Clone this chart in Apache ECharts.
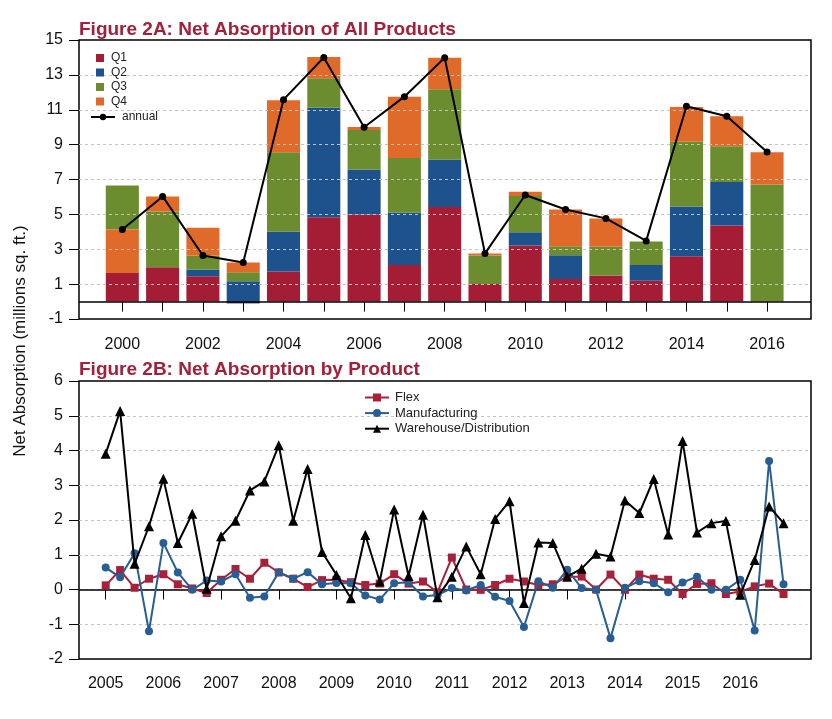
<!DOCTYPE html>
<html lang="en">
<head>
<meta charset="UTF-8">
<title>Net Absorption</title>
<script src="https://cdn.jsdelivr.net/npm/echarts@6/dist/echarts.min.js"></script>
<style>
    html,body{
        padding: 0;
        margin: 0;
        background: #fff;
    }
</style>
</head>
<body>
<div id="chart" style="width: 832px;height: 719px;"></div>
<script type="text/javascript">
    // Figure 2A: quarterly pieces of each year's net absorption (millions sq. ft.)
    var years = [2000, 2001, 2002, 2003, 2004, 2005, 2006, 2007, 2008, 2009, 2010, 2011, 2012, 2013, 2014, 2015, 2016];
    var q1 = [1.64, 1.97, 1.45, -0.10, 1.72, 4.84, 4.99, 2.10, 5.43, 1.01, 3.21, 1.30, 1.49, 1.20, 2.60, 4.36, 0];
    var q2 = [0, 0, 0.39, 1.26, 2.30, 6.27, 2.59, 2.99, 2.72, 0, 0.77, 1.36, 0, 0.89, 2.85, 2.49, 0];
    var q3 = [2.53, 3.20, 0.80, 0.52, 4.54, 1.70, 2.26, 3.14, 4.03, 1.63, 2.07, 0.51, 1.65, 1.36, 3.72, 2.05, 6.72];
    var q4 = [2.49, 0.86, 1.59, 0.56, 2.99, 1.22, 0.17, 3.52, 1.80, 0.12, 0.25, 2.11, 1.63, 0, 1.99, 1.73, 1.84];
    var annual = [4.13, 6.03, 2.64, 2.24, 11.58, 14.00, 10.00, 11.75, 13.98, 2.76, 6.11, 5.28, 4.77, 3.48, 11.20, 10.63, 8.58];
    // in the source chart the 2000 bar has its Q4 piece under Q3
    var q4UnderQ3 = [2000];
    var yTicksA = [-1, 1, 3, 5, 7, 9, 11, 13, 15];
    var xLabelsA = [2000, 2002, 2004, 2006, 2008, 2010, 2012, 2014, 2016];

    // Figure 2B: quarterly net absorption by product, 2005Q1 - 2016Q4
    var firstYear = 2005;
    var flex = [0.12, 0.56, 0.05, 0.31, 0.44, 0.15, 0.03, -0.10, 0.28, 0.59, 0.31, 0.77,
        0.49, 0.31, 0.07, 0.27, 0.28, 0.21, 0.13, 0.17, 0.44, 0.17, 0.23, -0.08,
        0.92, 0.00, -0.01, 0.13, 0.31, 0.23, 0.13, 0.15, 0.37, 0.37, 0.00, 0.43,
        -0.01, 0.43, 0.31, 0.28, -0.13, 0.16, 0.18, -0.13, -0.06, 0.09, 0.17, -0.13];
    var manufacturing = [0.63, 0.35, 1.04, -1.20, 1.34, 0.49, -0.01, 0.26, 0.23, 0.44, -0.24, -0.20,
        0.50, 0.31, 0.50, 0.15, 0.19, 0.18, -0.17, -0.29, 0.18, 0.21, -0.20, -0.16,
        0.04, -0.03, 0.13, -0.21, -0.33, -1.08, 0.24, 0.05, 0.57, 0.04, -0.01, -1.40,
        0.05, 0.24, 0.18, -0.08, 0.20, 0.37, -0.01, -0.01, 0.28, -1.18, 3.70, 0.15];
    var warehouse = [3.91, 5.14, 0.74, 1.82, 3.19, 1.34, 2.18, 0.02, 1.53, 1.98, 2.85, 3.11,
        4.15, 1.98, 3.47, 1.08, 0.42, -0.25, 1.57, 0.23, 2.30, 0.39, 2.15, -0.22,
        0.37, 1.24, 0.44, 2.03, 2.54, -0.39, 1.35, 1.34, 0.37, 0.60, 1.03, 0.95,
        2.56, 2.20, 3.18, 1.58, 4.27, 1.64, 1.91, 1.97, -0.15, 0.85, 2.39, 1.91];
    var xLabelsB = [2005, 2006, 2007, 2008, 2009, 2010, 2011, 2012, 2013, 2014, 2015, 2016];

    var FONT = "'Liberation Sans', Arial, sans-serif";
    var RED = '#A51D35', BLUE = '#1D528C', GREEN = '#6B8C2F', ORANGE = '#E06A2A';

    var myChart = echarts.init(document.getElementById('chart'));

    /**
     * stack the quarters of each year like R's barplot: every piece starts
     * where the previous one ended, negative pieces included
     */
    function buildSegments() {
        var vals = {Q1: q1, Q2: q2, Q3: q3, Q4: q4};
        var seg = {Q1: [], Q2: [], Q3: [], Q4: []};
        years.forEach(function (y, i) {
            var order = q4UnderQ3.indexOf(y) >= 0 ? ['Q1', 'Q2', 'Q4', 'Q3'] : ['Q1', 'Q2', 'Q3', 'Q4'];
            var level = 0;
            order.forEach(function (k) {
                var v = vals[k][i];
                seg[k].push([y, level, level + v]);
                level += v;
            });
        });
        return seg;
    }

    function renderPiece(params, api) {
        var x = api.value(0), lo = api.value(1), hi = api.value(2);
        if (lo === hi) {
            return;
        }
        var a = api.coord([x, lo]);
        var b = api.coord([x, hi]);
        var w = api.size([0.82, 0])[0];
        return {
            type: 'rect',
            shape: {x: a[0] - w / 2, y: Math.min(a[1], b[1]), width: w, height: Math.abs(a[1] - b[1])},
            style: {fill: api.visual('color')}
        };
    }

    function quarterSeries(seg) {
        return [['Q1', RED], ['Q2', BLUE], ['Q3', GREEN], ['Q4', ORANGE]].map(function (q) {
            return {
                name: q[0],
                type: 'custom',
                xAxisIndex: 0,
                yAxisIndex: 0,
                renderItem: renderPiece,
                encode: {x: 0, y: [1, 2]},
                itemStyle: {color: q[1]},
                data: seg[q[0]],
                z: 2
            };
        });
    }

    function quarterly(values) {
        return values.map(function (v, i) {
            return [firstYear + i / 4, v];
        });
    }

    var axisText = {fontSize: 16, color: '#111', fontFamily: FONT};
    var gridLine = {color: '#c4c4c4', type: [3, 3], width: 1};
    var legendText = {fontSize: 12, color: '#222', fontFamily: FONT, padding: [0, 0, 0, 2]};
    var titleText = {fontSize: 19, fontWeight: 'bold', color: '#A3203A', fontFamily: FONT};
    var zeroLine = {
        silent: true,
        symbol: ['none', 'none'],
        label: {show: false},
        lineStyle: {color: '#000', type: 'solid', width: 1.5},
        data: [{yAxis: 0}]
    };

    var seg = buildSegments();

    var option = {
        animation: false,
        backgroundColor: '#fff',
        title: [{
            text: 'Figure 2A: Net Absorption of All Products',
            left: 79, top: 20, padding: 0,
            textStyle: titleText
        }, {
            text: 'Figure 2B: Net Absorption by Product',
            left: 79, top: 360, padding: 0,
            textStyle: titleText
        }],
        graphic: [{
            type: 'text',
            x: 20, y: 341,
            rotation: Math.PI / 2,
            style: {
                text: 'Net Absorption (millions sq. ft.)',
                fontSize: 17, fontFamily: FONT, fill: '#111',
                align: 'center', verticalAlign: 'middle',
                textAlign: 'center', textVerticalAlign: 'middle'
            }
        }],
        legend: [{
            orient: 'vertical', left: 91, top: 47, z: 8,
            itemWidth: 8, itemHeight: 8, itemGap: 2.5,
            selectedMode: false,
            textStyle: legendText,
            data: [{name: 'Q1', icon: 'rect'}, {name: 'Q2', icon: 'rect'}, {name: 'Q3', icon: 'rect'}, {name: 'Q4', icon: 'rect'}]
        }, {
            orient: 'vertical', left: 85, top: 106, z: 8,
            itemWidth: 24, itemHeight: 8,
            selectedMode: false,
            textStyle: legendText,
            data: ['annual']
        }, {
            orient: 'vertical', left: 359, top: 386, z: 8,
            itemWidth: 24, itemHeight: 10, itemGap: 2.6,
            selectedMode: false,
            textStyle: {fontSize: 13, color: '#222', fontFamily: FONT, padding: [0, 0, 0, 1]},
            data: ['Flex', 'Manufacturing', 'Warehouse/Distribution']
        }],
        grid: [
            {left: 79, top: 40, width: 732, height: 279, show: true, borderColor: '#000', borderWidth: 1.5, backgroundColor: 'transparent'},
            {left: 79, top: 381, width: 732, height: 278, show: true, borderColor: '#000', borderWidth: 1.5, backgroundColor: 'transparent'}
        ],
        xAxis: [{
            gridIndex: 0, type: 'value', min: 1998.925, max: 2017.09,
            axisLine: {show: false},
            splitLine: {show: false},
            axisTick: {show: true, customValues: years, length: 10, lineStyle: {color: '#000', width: 1}},
            axisLabel: Object.assign({customValues: xLabelsA, margin: 18, formatter: function (v) { return String(v); }}, axisText)
        }, {
            gridIndex: 1, type: 'value', min: 2004.537, max: 2017.226,
            axisLine: {show: false},
            splitLine: {show: false},
            axisTick: {show: true, customValues: xLabelsB, length: 10, lineStyle: {color: '#000', width: 1}},
            axisLabel: Object.assign({customValues: xLabelsB, margin: 17, formatter: function (v) { return String(v); }}, axisText)
        }],
        yAxis: [{
            gridIndex: 0, type: 'value', min: -1, max: 15, interval: 1, z: 5,
            axisLine: {show: false},
            axisTick: {show: true, customValues: yTicksA, length: 10, lineStyle: {color: '#000', width: 1}},
            axisLabel: Object.assign({customValues: yTicksA, margin: 16}, axisText),
            splitLine: {show: true, showMinLine: false, showMaxLine: false, lineStyle: gridLine}
        }, {
            gridIndex: 1, type: 'value', min: -2, max: 6, interval: 1, z: 5,
            axisLine: {show: false},
            axisTick: {show: true, length: 10, lineStyle: {color: '#000', width: 1}},
            axisLabel: Object.assign({margin: 16}, axisText),
            splitLine: {show: true, showMinLine: false, showMaxLine: false, lineStyle: gridLine}
        }],
        series: quarterSeries(seg).concat([{
            name: 'annual',
            type: 'line',
            xAxisIndex: 0, yAxisIndex: 0,
            data: years.map(function (y, i) { return [y, annual[i]]; }),
            symbol: 'circle', symbolSize: 7,
            lineStyle: {color: '#000', width: 2},
            itemStyle: {color: '#000'},
            z: 10,
            markLine: zeroLine
        }, {
            name: 'Flex',
            type: 'line',
            xAxisIndex: 1, yAxisIndex: 1,
            data: quarterly(flex),
            symbol: 'rect', symbolSize: 8,
            lineStyle: {color: '#A8213A', width: 2},
            itemStyle: {color: '#A8213A'},
            z: 10,
            markLine: zeroLine
        }, {
            name: 'Manufacturing',
            type: 'line',
            xAxisIndex: 1, yAxisIndex: 1,
            data: quarterly(manufacturing),
            symbol: 'circle', symbolSize: 8,
            lineStyle: {color: '#285E93', width: 2},
            itemStyle: {color: '#285E93'},
            z: 11
        }, {
            name: 'Warehouse/Distribution',
            type: 'line',
            xAxisIndex: 1, yAxisIndex: 1,
            data: quarterly(warehouse),
            symbol: 'triangle', symbolSize: 10,
            lineStyle: {color: '#000', width: 2},
            itemStyle: {color: '#000'},
            z: 12
        }])
    };

    myChart.setOption(option);
</script>
</body>
</html>
